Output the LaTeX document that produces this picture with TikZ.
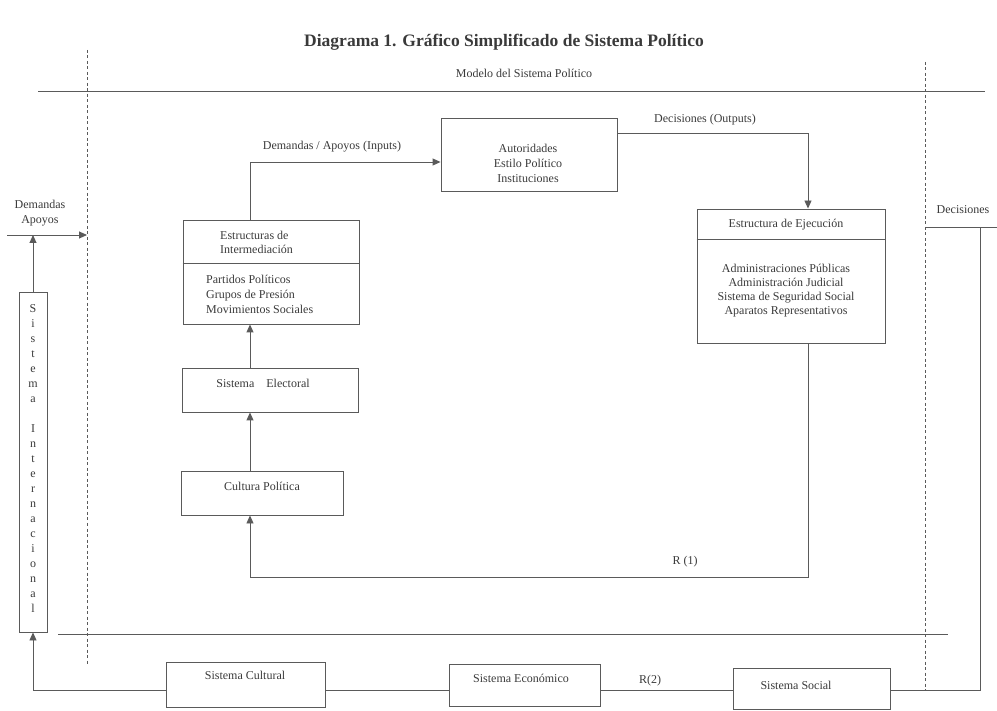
\documentclass[tikz,border=0pt]{standalone}
\usepackage{fontspec}
\setmainfont{Liberation Serif}
\usetikzlibrary{arrows.meta,calc}
\definecolor{linec}{HTML}{5A5A5A}
\definecolor{txtc}{HTML}{3A3A3A}
\begin{document}
\begin{tikzpicture}[x=1pt,y=-1pt,
  ln/.style={draw=linec,line width=0.9pt},
  arr/.style={ln,-{Triangle[length=8pt,width=7pt]}},
  dsh/.style={draw=linec,line width=0.6pt,dash pattern=on 3pt off 2.5pt},
  box/.style={ln,rectangle,inner sep=0pt},
  lbl/.style={text=txtc,font=\fontsize{12}{14.5}\selectfont,inner sep=0pt,align=center}]
\useasboundingbox (0,0) rectangle (997,711);

% title
\node[text=txtc,font=\bfseries\fontsize{17.5}{20}\selectfont,inner sep=0pt] (title) at (504,42) {Diagrama 1. Gráfico Simplificado de Sistema Político};

% frame lines
\coordinate (tl1) at (38,91); \coordinate (tl2) at (985,91);
\draw[ln] (tl1) -- (tl2);
\coordinate (bl1) at (58,634); \coordinate (bl2) at (948,634);
\draw[ln] (bl1) -- (bl2);
\coordinate (dl1) at (87,50); \coordinate (dl2) at (87,664);
\draw[dsh] (dl1) -- (dl2);
\coordinate (dr1) at (925,62); \coordinate (dr2) at (925,690);
\draw[dsh] (dr1) -- (dr2);
\node[lbl] (modelo) at (524,73) {Modelo del Sistema Político};

% boxes
\node[box,minimum width=176pt,minimum height=73pt] (auto) at (529,154.5) {};
\node[box,minimum width=188pt,minimum height=134pt] (eje) at (791,276) {};
\draw[ln] ($(eje.north west)+(0,31)$) -- ($(eje.north east)+(0,31)$);
\node[box,minimum width=176pt,minimum height=104pt] (inter) at (271,272) {};
\draw[ln] ($(inter.north west)+(0,44)$) -- ($(inter.north east)+(0,44)$);
\node[box,minimum width=176pt,minimum height=44pt] (elec) at (270,390) {};
\node[box,minimum width=162pt,minimum height=44pt] (cult) at (262,493) {};
\node[box,minimum width=28pt,minimum height=340pt] (sint) at (33,462) {};
\node[box,minimum width=159pt,minimum height=45pt] (scult) at (245.5,684.5) {};
\node[box,minimum width=151pt,minimum height=42pt] (secon) at (524.5,685) {};
\node[box,minimum width=157pt,minimum height=41pt] (ssoc) at (811.5,688.5) {};

% texts
\node[lbl,font=\fontsize{12}{15}\selectfont] (tauto) at (528,163) {Autoridades\\Estilo Político\\Instituciones};
\node[lbl] (tin) at (332,147) {Demandas / Apoyos (Inputs)};
\node[lbl] (tout) at (705,120) {Decisiones (Outputs)};
\node[lbl] (tejeh) at (786,225) {Estructura de Ejecución};
\node[lbl,font=\fontsize{12}{14}\selectfont] (tejeb) at (786,291) {Administraciones Públicas\\Administración Judicial\\Sistema de Seguridad Social\\Aparatos Representativos};
\node[lbl,align=left,anchor=west] (tinth) at (220,242.5) {Estructuras de\\Intermediación};
\node[lbl,align=left,anchor=west,font=\fontsize{12}{15}\selectfont] (tintb) at (206,294) {Partidos Políticos\\Grupos de Presión\\Movimientos Sociales};
\node[lbl] (telec) at (263,383) {Sistema\hspace{1em}Electoral};
\node[lbl] (tcult) at (262,486) {Cultura Política};
\node[lbl] (tr1) at (685,562) {R (1)};
\node[lbl,font=\fontsize{12}{15}\selectfont] (tsint) at (33,459) {S\\i\\s\\t\\e\\m\\a\\[15pt]I\\n\\t\\e\\r\\n\\a\\c\\i\\o\\n\\a\\l};
\node[lbl] (tdem) at (40,213) {Demandas\\Apoyos};
\node[lbl] (tdec) at (963,210) {Decisiones};
\node[lbl] (tscult) at (245,675) {Sistema Cultural};
\node[lbl] (tsecon) at (521,678) {Sistema Económico};
\node[lbl] (tr2) at (650,681) {R(2)};
\node[lbl] (tssoc) at (796,685) {Sistema Social};

% connectors
\coordinate (col) at (250,0);
\coordinate (ecol) at (808,0);
\coordinate (rcol) at (980,0);
\coordinate (inY) at (0,162);
\coordinate (outY) at (0,133);
\coordinate (fbY) at (0,577);
\coordinate (chY) at (0,690);
\coordinate (decY) at (0,227);
\coordinate (decEnd) at (997,227);
\coordinate (inStart) at (7,235);

\draw[arr] (cult.north -| col) -- (elec.south -| col);
\draw[arr] (elec.north -| col) -- (inter.south -| col);
\draw[arr] (inter.north -| col) -- (col |- inY) -- (auto.west |- inY);
\draw[arr] (auto.east |- outY) -- (ecol |- outY) -- (eje.north -| ecol);
\draw[arr] (eje.south -| ecol) -- (ecol |- fbY) -- (col |- fbY) -- (cult.south -| col);
\draw[arr] (scult.west |- chY) -- (sint.south |- chY) -- (sint.south);
\draw[ln] (scult.east |- chY) -- (secon.west |- chY);
\draw[ln] (secon.east |- chY) -- (ssoc.west |- chY);
\draw[ln] (ssoc.east |- chY) -- (rcol |- chY) -- (rcol |- decY);
\draw[ln] (dr1 |- decY) -- (decEnd);
\draw[arr] (inStart) -- (dl1 |- inStart);
\draw[arr] (sint.north) -- (sint.north |- inStart);
\end{tikzpicture}
\end{document}
